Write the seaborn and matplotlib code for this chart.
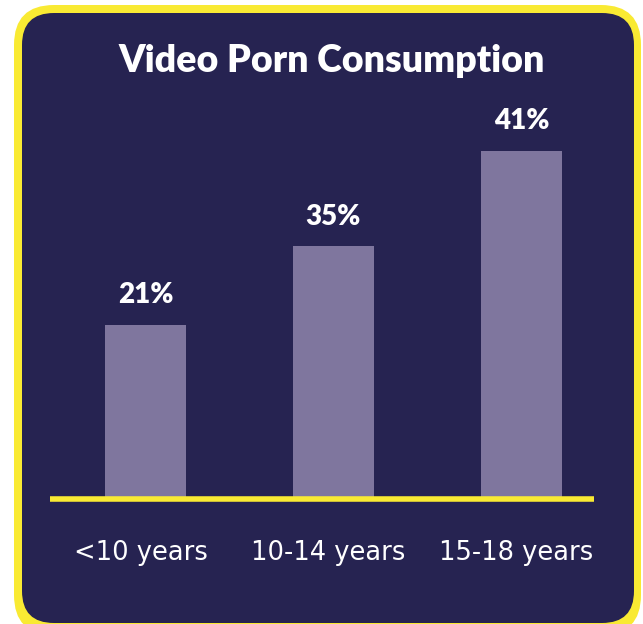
import matplotlib
matplotlib.use("Agg")
import matplotlib.pyplot as plt
import matplotlib.transforms as mtransforms
import seaborn as sns
from matplotlib.patches import FancyBboxPatch

# data
age_groups = ["<10 years", "10-14 years", "15-18 years"]
share_labels = [21, 35, 41]
# drawn bar heights (the graphic is not to scale)
bar_heights = [20.5, 29.7, 41.0]

navy = "#262351"
bar_col = "#7f769e"
yellow = "#f9ea33"

sns.set_theme(style="white")
plt.rcParams["font.family"] = ["Lato", "DejaVu Sans"]

fig = plt.figure(figsize=(6.43, 6.24), dpi=100)
fig.patch.set_facecolor("white")

# card background, in pixel coords
bg = fig.add_axes([0, 0, 1, 1])
bg.set_xlim(0, 643)
bg.set_ylim(624, 0)
bg.axis("off")
bg.add_patch(FancyBboxPatch((14 + 40, 5 + 40), 627 - 80, 630 - 80,
                            boxstyle="round,pad=40", fc=yellow, ec="none"))
bg.add_patch(FancyBboxPatch((22 + 32, 13 + 32), 612 - 64, 610 - 64,
                            boxstyle="round,pad=32", fc=navy, ec="none"))

# chart axes
W, H = 643, 624
left, right = 50, 594
base_y, top_y = 498.5, 100
ax = fig.add_axes([left / W, (H - base_y) / H, (right - left) / W, (base_y - top_y) / H])
ax.patch.set_alpha(0)

sns.barplot(x=age_groups, y=bar_heights, color=bar_col, width=0.43,
            saturation=1, edgecolor="none", linewidth=0, ax=ax)

px_per_unit = 348 / 41.0
ax.set_ylim(0, (base_y - top_y) / px_per_unit)
ax.set_xlim(-0.508, 2.386)

for i, (h, v) in enumerate(zip(bar_heights, share_labels)):
    ax.annotate(f"{v}%", (i, h), xytext=(0, 12), textcoords="offset points",
                ha="center", va="bottom", color="white", fontsize=20,
                fontweight="heavy")

ax.axhline(0, color=yellow, lw=4, clip_on=False, solid_capstyle="butt")

for s in ax.spines.values():
    s.set_visible(False)
ax.set_yticks([])
ax.set_xlabel("")
ax.set_ylabel("")
ax.tick_params(axis="x", length=0, pad=30, labelsize=18.5, labelcolor="white")
shift = mtransforms.ScaledTranslation(-5 / 100, 0, fig.dpi_scale_trans)
for lab in ax.get_xticklabels():
    lab.set_family("DejaVu Sans")
    lab.set_transform(lab.get_transform() + shift)

fig.text(332 / W, 1 - 61 / H, "Video Porn Consumption", ha="center", va="center",
         color="white", fontsize=27, fontweight="heavy")

fig.savefig("out.png", dpi=100, facecolor="white")
